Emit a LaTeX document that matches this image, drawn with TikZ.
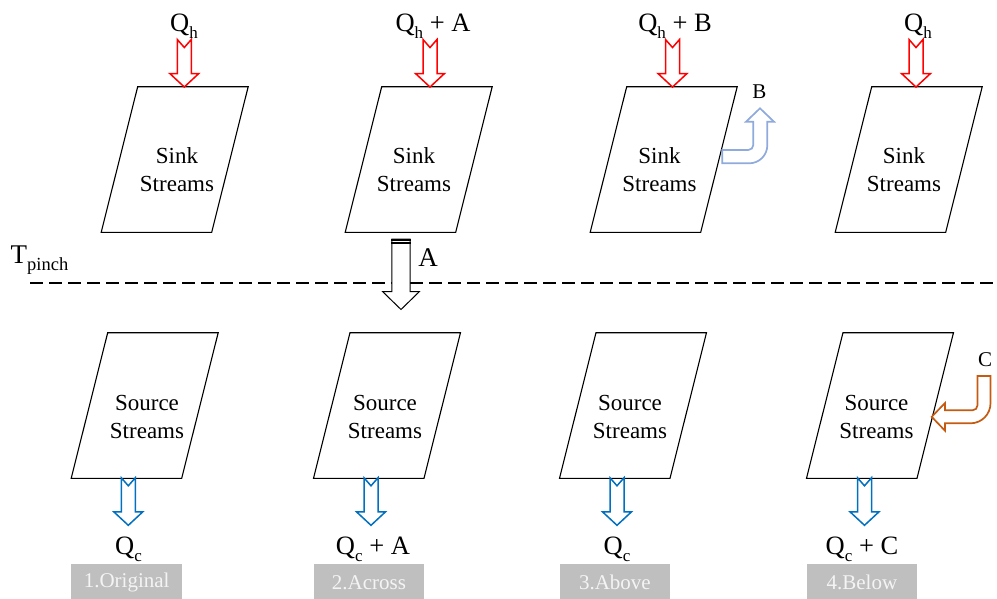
\documentclass[tikz,border=0pt]{standalone}
\usepackage{fontspec}
\usepackage{graphicx}
\setmainfont{Liberation Serif}
\usetikzlibrary{calc}

\definecolor{heatred}{HTML}{FF0000}
\definecolor{coolblue}{HTML}{0070C0}
\definecolor{liteblue}{HTML}{8FAADC}
\definecolor{burnt}{HTML}{C55A11}
\definecolor{tagfill}{HTML}{BFBFBF}
\definecolor{tagtext}{HTML}{F4F4F4}

% lowered, smaller text used for the subscripts
\newcommand\lsub[2][17]{\raisebox{-0.27em}{\fontsize{#1}{#1}\selectfont #2}}

\tikzset{
  frame/.style={draw=black, line width=1.1pt, line join=miter},
  body/.style={font=\fontsize{23}{27}\selectfont, inner sep=0pt, anchor=base},
  qlab/.style={font=\fontsize{26.5}{30}\selectfont, inner sep=0pt, anchor=base},
  small/.style={font=\fontsize{21}{25}\selectfont, inner sep=0pt, anchor=base},
  tag/.style={fill=tagfill, text=tagtext, font=\fontsize{21}{25}\selectfont,
              minimum width=110.5pt, minimum height=36pt, inner sep=0pt, anchor=north west},
  notched/.pic={
    \path[pic actions] (0,0) -- (-14.5,-13.5) -- (-7,-13.5) -- (-7,-47.5)
      -- (0,-39.5) -- (7,-47.5) -- (7,-13.5) -- (14.5,-13.5) -- cycle;
  },
  sinkbox/.pic={
    \path[pic actions] (0,0) -- (110.5,0) -- (74,145.6) -- (-36.5,145.6) -- cycle;
  },
  heat/.style={draw=heatred, line width=1.5pt, fill=white},
  cool/.style={draw=coolblue, line width=1.5pt, fill=white},
}

\begin{document}
\begin{tikzpicture}[x=1pt,y=-1pt]
\useasboundingbox (0,0) rectangle (997,598);

% ---------- sink side (above the pinch) ----------
\foreach \n/\tx in {1/137.7, 2/381.7, 3/626.7, 4/871.7}
  \coordinate (sink\n) at (\tx,86.7);
\foreach \n in {1,...,4}
  \pic[frame] at (sink\n) {sinkbox};

\node[body] (sa1) at (177,163.3) {Sink};
\node[body] (sb1) at (177,191.7) {Streams};
\node[body] (sa2) at (414,163.3) {Sink};
\node[body] (sb2) at (414,191.7) {Streams};
\node[body] (sa3) at (659.5,163.3) {Sink};
\node[body] (sb3) at (659.5,191.7) {Streams};
\node[body] (sa4) at (904,163.3) {Sink};
\node[body] (sb4) at (904,191.7) {Streams};

% hot utility arrows
\coordinate (ht1) at (184.3,87);
\coordinate (ht2) at (430,87);
\coordinate (ht3) at (672.5,87);
\coordinate (ht4) at (916,87);
\foreach \n in {1,...,4}
  \pic[heat] at (ht\n) {notched};

\node[qlab] (qh1) at (184,31) {Q\lsub{h}};
\node[qlab] (qh2) at (433,31) {Q\lsub{h} + A};
\node[qlab] (qh3) at (675,31) {Q\lsub{h} + B};
\node[qlab] (qh4) at (918,31) {Q\lsub{h}};

% ---------- source side (below the pinch) ----------
\foreach \n/\tx in {1/107.7, 2/350, 3/596, 4/843}
  \coordinate (src\n) at (\tx,332.7);
\foreach \n in {1,...,4}
  \pic[frame] at (src\n) {sinkbox};

\node[body] (ra1) at (147,410) {Source};
\node[body] (rb1) at (147,438.3) {Streams};
\node[body] (ra2) at (385,410) {Source};
\node[body] (rb2) at (385,438.3) {Streams};
\node[body] (ra3) at (630,410) {Source};
\node[body] (rb3) at (630,438.3) {Streams};
\node[body] (ra4) at (876.5,410) {Source};
\node[body] (rb4) at (876.5,438.3) {Streams};

% cold utility arrows
\coordinate (ct1) at (128.3,525.3);
\coordinate (ct2) at (371,525.3);
\coordinate (ct3) at (617,525.3);
\coordinate (ct4) at (864.5,525.3);
\foreach \n in {1,...,4}
  \pic[cool] at (ct\n) {notched};

\node[qlab] (qc1) at (128.5,554) {Q\lsub{c}};
\node[qlab] (qc2) at (373,554) {Q\lsub{c} + A};
\node[qlab] (qc3) at (617,554) {Q\lsub{c}};
\node[qlab] (qc4) at (862,554) {Q\lsub{c} + C};

% case tags
\node[tag] (tag1) at (71.2,564) {1.Original};
\node[tag] (tag2) at (313.5,564) {2.Across};
\node[tag] (tag3) at (559.5,564) {3.Above};
\node[tag] (tag4) at (806.5,564) {4.Below};

% ---------- pinch line ----------
\coordinate (pinchL) at (30,283);
\coordinate (pinchR) at (997,283);
\draw[line width=1.6pt, dash pattern=on 12.5pt off 6.5pt] (pinchL) -- (pinchR);
\node[font=\fontsize{27}{31}\selectfont, inner sep=0pt, anchor=base west] (tp) at (10.5,263.5)
  {T\lsub[18.5]{pinch}};

% heat flow across the pinch
\coordinate (acr) at (401,239);
\draw[black, line width=1pt, fill=white, line join=miter, shift={(acr)}]
  (-9.2,0) -- (9.2,0) -- (9.2,52.7) -- (18.3,52.7) -- (0,70.5)
  -- (-18.3,52.7) -- (-9.2,52.7) -- cycle;
\fill[black, shift={(acr)}] (-9.7,-0.5) rectangle (9.7,2);
\fill[black, shift={(acr)}] (-9.7,3.2) rectangle (9.7,5);
\node[font=\fontsize{27}{31}\selectfont, inner sep=0pt, anchor=base] (alab) at (428,266.7) {A};

% excess heat B leaving above the pinch
\coordinate (bst) at (722.3,150);
\draw[liteblue, line width=1.7pt, fill=white, line join=miter, shift={(bst)}]
  (0,0) -- (26,0) .. controls (28.76,0) and (31,-2.24) .. (31,-5)
  -- (31,-28.3) -- (23.7,-28.3) -- (37.7,-41.7) -- (51.7,-28.3) -- (45,-28.3)
  -- (45,-4.7) .. controls (45,5.24) and (36.94,13.3) .. (27,13.3)
  -- (0,13.3) -- cycle;
\node[small] (blab) at (759.3,98.3) {B};

% extra heat C entering below the pinch
\coordinate (cst) at (977.5,376);
\draw[burnt, line width=1.7pt, fill=white, line join=miter, shift={(cst)}]
  (0,0) -- (13,0) -- (13,27.3) .. controls (13,38.35) and (4.05,47.3) .. (-7,47.3)
  -- (-32.5,47.3) -- (-32.5,54.7) -- (-45.8,40.8) -- (-32.5,27) -- (-32.5,34.3)
  -- (-5,34.3) .. controls (-2.24,34.3) and (0,32.06) .. (0,29.3) -- cycle;
\node[small] (clab) at (985,366.7) {C};
\end{tikzpicture}
\end{document}
